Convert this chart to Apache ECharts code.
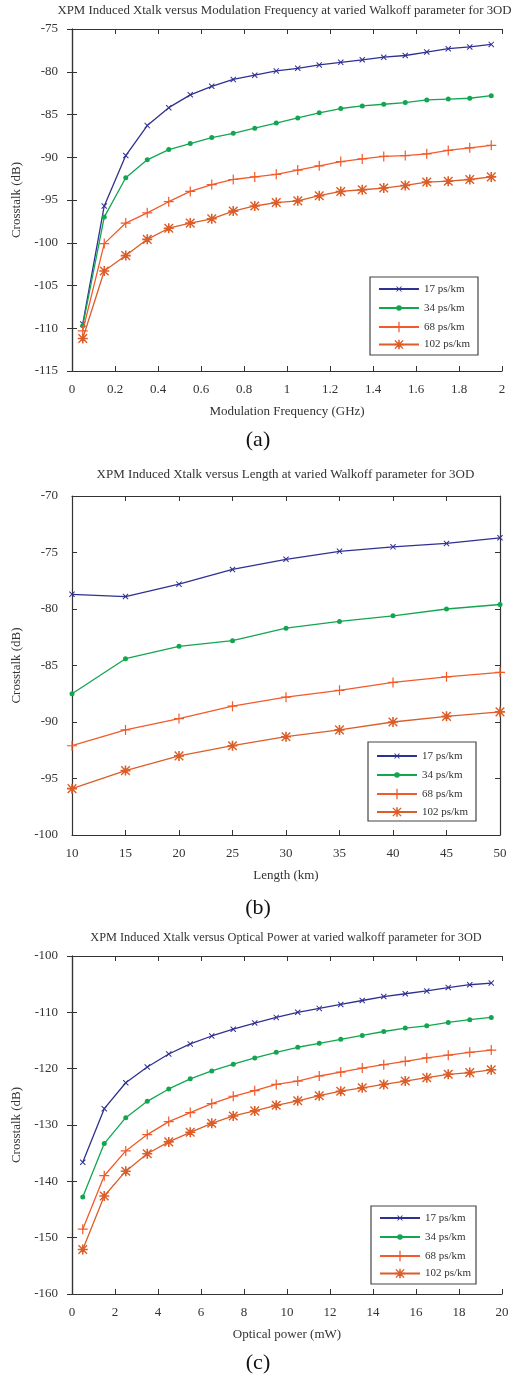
<!DOCTYPE html>
<html>
<head>
<meta charset="utf-8">
<script src="https://cdn.jsdelivr.net/npm/echarts@6/dist/echarts.min.js"></script>
<style>html,body{margin:0;padding:0;background:#fff}#c{width:516px;height:1378px}</style>
</head>
<body>
<div id="c"></div>
<script>
// ---------- DATA ----------
const seriesNames = ['17 ps/km', '34 ps/km', '68 ps/km', '102 ps/km'];

// (a) Modulation frequency (GHz)
const freqA = [0.05,0.15,0.25,0.35,0.45,0.55,0.65,0.75,0.85,0.95,1.05,1.15,1.25,1.35,1.45,1.55,1.65,1.75,1.85,1.95];
const a17  = [-109.5,-95.7,-89.8,-86.3,-84.2,-82.7,-81.7,-80.9,-80.4,-79.9,-79.6,-79.2,-78.9,-78.6,-78.3,-78.1,-77.7,-77.3,-77.1,-76.8];
const a34  = [-109.7,-97.0,-92.4,-90.3,-89.1,-88.4,-87.7,-87.2,-86.6,-86.0,-85.4,-84.8,-84.3,-84.0,-83.8,-83.6,-83.3,-83.2,-83.1,-82.8];
const a68  = [-110.3,-100.1,-97.7,-96.5,-95.2,-94.0,-93.2,-92.6,-92.3,-92.0,-91.5,-91.0,-90.5,-90.2,-89.9,-89.8,-89.6,-89.2,-88.9,-88.6];
const a102 = [-111.2,-103.3,-101.5,-99.6,-98.3,-97.7,-97.2,-96.3,-95.7,-95.3,-95.1,-94.5,-94.0,-93.8,-93.6,-93.3,-92.9,-92.8,-92.6,-92.3];

// (b) Length (km)
const lenB = [10,15,20,25,30,35,40,45,50];
const b17  = [-78.7,-78.9,-77.8,-76.5,-75.6,-74.9,-74.5,-74.2,-73.7];
const b34  = [-87.5,-84.4,-83.3,-82.8,-81.7,-81.1,-80.6,-80.0,-79.6];
const b68  = [-92.1,-90.7,-89.7,-88.6,-87.8,-87.2,-86.5,-86.0,-85.6];
const b102 = [-95.9,-94.3,-93.0,-92.1,-91.3,-90.7,-90.0,-89.5,-89.1];

// (c) Optical power (mW)
const powC = [0.5,1.5,2.5,3.5,4.5,5.5,6.5,7.5,8.5,9.5,10.5,11.5,12.5,13.5,14.5,15.5,16.5,17.5,18.5,19.5];
const c17  = [-136.6,-127.1,-122.5,-119.7,-117.4,-115.6,-114.2,-113.0,-111.9,-110.9,-110.0,-109.3,-108.6,-107.9,-107.2,-106.7,-106.2,-105.6,-105.1,-104.8];
const c34  = [-142.8,-133.3,-128.7,-125.8,-123.6,-121.8,-120.4,-119.2,-118.1,-117.1,-116.2,-115.5,-114.8,-114.1,-113.4,-112.8,-112.4,-111.8,-111.3,-110.9];
const c68  = [-148.5,-139.0,-134.6,-131.7,-129.4,-127.8,-126.2,-124.9,-123.9,-122.8,-122.2,-121.3,-120.6,-119.9,-119.3,-118.7,-118.1,-117.6,-117.1,-116.7];
const c102 = [-152.1,-142.6,-138.2,-135.1,-133.0,-131.3,-129.7,-128.4,-127.5,-126.5,-125.7,-124.8,-124.0,-123.4,-122.8,-122.2,-121.6,-121.0,-120.7,-120.2];

const titles = [
  'XPM Induced Xtalk versus Modulation Frequency at varied Walkoff parameter for 3OD',
  'XPM Induced Xtalk versus Length at varied Walkoff parameter for 3OD',
  'XPM Induced Xtalk versus Optical Power at varied walkoff parameter for 3OD'
];
const xNames = ['Modulation Frequency (GHz)', 'Length (km)', 'Optical power (mW)'];
const yName = 'Crosstalk (dB)';
const panelLabels = ['(a)', '(b)', '(c)'];

// ---------- STYLE ----------
const FONT = '"Liberation Serif", "Times New Roman", serif';
const colors = ['#2f3192', '#13a650', '#f35a2a', '#dc5d27'];
const symX = 'path://M0,1.2 L1.2,0 L10,8.8 L8.8,10 Z M8.8,0 L10,1.2 L1.2,10 L0,8.8 Z';
const symPlus = 'path://M4.4,0 L5.6,0 L5.6,4.4 L10,4.4 L10,5.6 L5.6,5.6 L5.6,10 L4.4,10 L4.4,5.6 L0,5.6 L0,4.4 L4.4,4.4 Z';
const symStar = 'path://M4.2,0 L5.8,0 L5.8,4.2 L10,4.2 L10,5.8 L5.8,5.8 L5.8,10 L4.2,10 L4.2,5.8 L0,5.8 L0,4.2 L4.2,4.2 Z M1.2,0.2 L5,4 L8.8,0.2 L9.8,1.2 L6,5 L9.8,8.8 L8.8,9.8 L5,6 L1.2,9.8 L0.2,8.8 L4,5 L0.2,1.2 Z';
const symbols = [symX, 'circle', symPlus, symStar];
const symSizes = [6, 5, 10, 10];
const legendIconH = [7, 7, 13, 12];
const legendRowAdj = [-1, -1, 3, 2];

const grids = [
  {left: 72, right: 14, top: 29, height: 342},
  {left: 72, right: 16, top: 496, height: 339},
  {left: 72, right: 14, top: 956, height: 338}
];
const xCfg = [
  {min: 0, max: 2, interval: 0.2},
  {min: 10, max: 50, interval: 5},
  {min: 0, max: 20, interval: 2}
];
const yCfg = [
  {min: -115, max: -75, interval: 5},
  {min: -100, max: -70, interval: 5},
  {min: -160, max: -100, interval: 10}
];
const titlePos = [{x: 284.5, y: 11, size: 12.85}, {x: 285.5, y: 475, size: 13}, {x: 286, y: 938, size: 12.3}];
const panelY = [440, 908, 1363];
const legendBox = [
  {x: 370, y: 277, w: 108, h: 78, rows: [288, 307, 325, 343]},
  {x: 368, y: 742, w: 108, h: 79, rows: [755, 774, 792, 810.5]},
  {x: 371, y: 1206, w: 105, h: 78, rows: [1217, 1236, 1254, 1272]}
];
const xData = [freqA, lenB, powC];
const yData = [[a17, a34, a68, a102], [b17, b34, b68, b102], [c17, c34, c68, c102]];

const axisColor = '#333';
const textColor = '#333';

const xAxes = [], yAxes = [], series = [], legends = [], graphics = [];
for (let g = 0; g < 3; g++) {
  xAxes.push({
    type: 'value', gridIndex: g, position: 'bottom',
    min: xCfg[g].min, max: xCfg[g].max, interval: xCfg[g].interval,
    name: xNames[g], nameLocation: 'middle', nameGap: 34,
    nameTextStyle: {fontFamily: FONT, fontSize: 13, color: textColor},
    axisLine: {show: true, lineStyle: {color: axisColor, width: 1.2}},
    axisTick: {show: true, inside: true, length: 5, lineStyle: {color: axisColor}},
    axisLabel: {fontFamily: FONT, fontSize: 13, color: textColor, margin: 12},
    splitLine: {show: false}
  });
  xAxes.push({
    type: 'value', gridIndex: g, position: 'top',
    min: xCfg[g].min, max: xCfg[g].max, interval: xCfg[g].interval,
    axisLine: {show: true, lineStyle: {color: axisColor, width: 1.2}},
    axisTick: {show: true, inside: true, length: 5, lineStyle: {color: axisColor}},
    axisLabel: {show: false}, splitLine: {show: false}
  });
  yAxes.push({
    type: 'value', gridIndex: g, position: 'left',
    min: yCfg[g].min, max: yCfg[g].max, interval: yCfg[g].interval,
    name: yName, nameLocation: 'middle', nameGap: 49,
    nameTextStyle: {fontFamily: FONT, fontSize: 13, color: textColor},
    axisLine: {show: true, lineStyle: {color: axisColor, width: 1.2}},
    axisTick: {show: true, inside: true, length: 5, lineStyle: {color: axisColor}},
    axisLabel: {fontFamily: FONT, fontSize: 13, color: textColor, margin: 14},
    splitLine: {show: false}
  });
  yAxes.push({
    type: 'value', gridIndex: g, position: 'right',
    min: yCfg[g].min, max: yCfg[g].max, interval: yCfg[g].interval,
    axisLine: {show: true, lineStyle: {color: axisColor, width: 1.2}},
    axisTick: {show: true, inside: true, length: 5, lineStyle: {color: axisColor}},
    axisLabel: {show: false}, splitLine: {show: false}
  });
  for (let s = 0; s < 4; s++) {
    series.push({
      type: 'line', name: seriesNames[s],
      xAxisIndex: g * 2, yAxisIndex: g * 2,
      data: xData[g].map((x, i) => [x, yData[g][s][i]]),
      symbol: symbols[s], symbolSize: symSizes[s],
      showSymbol: true, animation: false,
      lineStyle: {color: colors[s], width: 1.3},
      itemStyle: {color: colors[s]},
      z: 2 + s
    });
    legends.push({
      orient: 'vertical', left: legendBox[g].x + 8,
      top: legendBox[g].rows[s] - legendIconH[s] / 2 + legendRowAdj[s],
      data: [seriesNames[s]], itemWidth: 40, itemHeight: legendIconH[s],
      padding: 0, selectedMode: false,
      textStyle: {fontFamily: FONT, fontSize: 11, color: textColor}
    });
  }
  graphics.push({
    type: 'rect', shape: {x: legendBox[g].x, y: legendBox[g].y, width: legendBox[g].w, height: legendBox[g].h},
    style: {fill: '#fff', stroke: '#444', lineWidth: 1.2}, z: 1
  });
  graphics.push({
    type: 'text', x: titlePos[g].x, y: titlePos[g].y,
    style: {text: titles[g], fontFamily: FONT, fontSize: titlePos[g].size, fill: textColor, textAlign: 'center', textVerticalAlign: 'middle'}
  });
  graphics.push({
    type: 'text', x: 258, y: panelY[g],
    style: {text: panelLabels[g], fontFamily: FONT, fontSize: 22, fill: '#111', textAlign: 'center', textVerticalAlign: 'middle'}
  });
}

const chart = echarts.init(document.getElementById('c'), null, {renderer: 'canvas'});
chart.setOption({
  animation: false,
  backgroundColor: '#fff',
  grid: grids,
  xAxis: xAxes,
  yAxis: yAxes,
  legend: legends,
  series: series,
  graphic: graphics
});
</script>
</body>
</html>
